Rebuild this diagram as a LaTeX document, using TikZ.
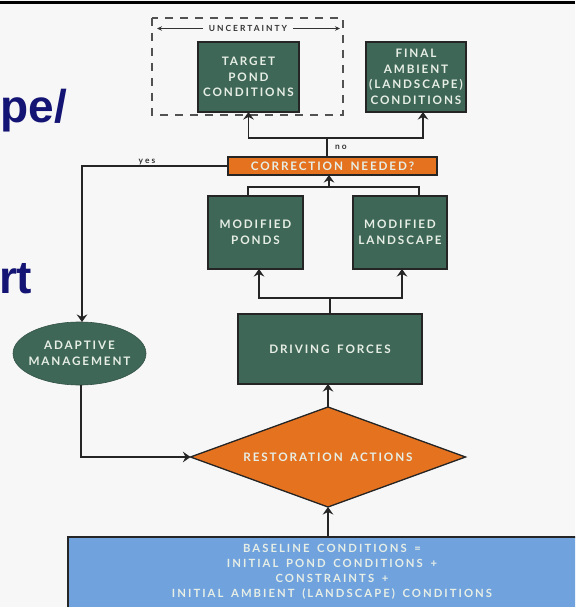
\documentclass[tikz,border=0pt]{standalone}
\usepackage{fontspec}
\usetikzlibrary{arrows.meta,shapes.geometric}
\newfontfamily\boxfont[LetterSpace=16,WordSpace=1.6]{Lato Bold}
\newfontfamily\tagfont[LetterSpace=24,WordSpace=1.4]{Lato Bold}
\newfontfamily\titlefont{Liberation Sans}
\definecolor{pagebg}{HTML}{F7F7F7}
\definecolor{boxgreen}{HTML}{3F6757}
\definecolor{boxorange}{HTML}{E5721F}
\definecolor{boxblue}{HTML}{70A2DE}
\definecolor{boxtext}{HTML}{E6EEE6}
\definecolor{inkline}{HTML}{252525}
\definecolor{softink}{HTML}{333333}
\definecolor{titleblue}{HTML}{141474}
\begin{document}
\begin{tikzpicture}[x=1pt,y=-1pt,
  every node/.style={inner sep=0pt, outer sep=0pt},
  lbl/.style={font=\boxfont\fontsize{11.7}{15.5}\selectfont, text=boxtext, align=center},
  baselbl/.style={font=\boxfont\addfontfeature{LetterSpace=18}\fontsize{11.3}{15}\selectfont, text=boxtext, align=center},
  gbox/.style={lbl, rectangle, draw=inkline, line width=1.3pt, fill=boxgreen},
  obox/.style={lbl, draw=inkline, line width=1.3pt, fill=boxorange},
  small/.style={font=\tagfont\fontsize{8.4}{10}\selectfont, text=softink},
  conn/.style={draw=inkline, line width=1.8pt},
  arr/.style={conn, -{Stealth[length=7.5pt,width=10.5pt,inset=2.5pt]}},
  thinarr/.style={draw=softink, line width=0.8pt, -{Stealth[length=5pt,width=4.5pt]}},
  dashbox/.style={draw=softink!85, line width=1.1pt, dash pattern=on 8pt off 7pt},
]
% page and frame
\fill[pagebg] (0,0) rectangle (575,607);
\useasboundingbox (0,0) rectangle (575,607);
\clip (0,0) rectangle (575,607);
\draw[line width=3pt, black] (0,2.5) -- (575,2.5);

% cut-off slide title
\node[font=\titlefont\bfseries\fontsize{46}{46}\selectfont, text=titleblue, anchor=base west] (ttlA) at (0.5,123) {pe/};
\node[font=\titlefont\bfseries\fontsize{46}{46}\selectfont, text=titleblue, anchor=base west] (ttlB) at (-1,293) {rt};

% uncertainty bracket
\draw[dashbox] (152,18) rectangle (343,115);
\node[small, inner xsep=6pt] (unc) at (248,28.5) {UNCERTAINTY};
\coordinate (uncL) at (157,28.5);
\coordinate (uncR) at (340,28.5);
\draw[thinarr] (unc.west) -- (uncL);
\draw[thinarr] (unc.east) -- (uncR);

% outcome boxes
\node[gbox, minimum width=101pt, minimum height=70pt] (target) at (248.5,77) {TARGET\\POND\\CONDITIONS};
\node[gbox, minimum width=100pt, minimum height=70pt] (final) at (416,77) {FINAL\\AMBIENT\\(LANDSCAPE)\\CONDITIONS};

% decision
\node[obox, minimum width=209pt, minimum height=18pt] (corr) at (332.5,166) {CORRECTION NEEDED?};

% modified system
\node[gbox, minimum width=95pt, minimum height=73pt] (modp) at (255.5,232.5) {MODIFIED\\PONDS};
\node[gbox, minimum width=94pt, minimum height=73pt] (modl) at (400,232.5) {MODIFIED\\LANDSCAPE};
\node[gbox, minimum width=184pt, minimum height=70pt] (drive) at (330,349) {DRIVING FORCES};

% actions
\node[obox, shape=diamond, aspect=2.75, minimum width=275pt, minimum height=100pt] (rest) at (328,457) {RESTORATION ACTIONS};
\node[ellipse, fill=boxgreen, draw=boxgreen!80!black, line width=0.6pt, minimum width=133pt, minimum height=63pt,
      label={[lbl]center:{ADAPTIVE\\MANAGEMENT}}] (adapt) at (79.5,353.5) {};

% baseline
\node[rectangle, draw=inkline, line width=1.3pt, fill=boxblue, minimum width=510pt, minimum height=72pt,
      label={[baselbl, xshift=9pt, yshift=1.5pt]center:{BASELINE CONDITIONS =\\INITIAL POND CONDITIONS +\\CONSTRAINTS +\\INITIAL AMBIENT (LANDSCAPE) CONDITIONS}}] (base) at (323,573) {};

% connectors
\coordinate (topsplit) at (327,138);
\draw[conn] (topsplit |- corr.north) -- (topsplit);
\draw[arr] (topsplit) -| (target.south);
\draw[arr] (topsplit) -| ([xshift=7pt]final.south);
\node[small, anchor=west] (nolbl) at (335,147.5) {no};

\coordinate (midjoin) at (329,187);
\draw[conn] ([xshift=-7.5pt]modp.north) -- ++(0,-9) -| ([xshift=19pt]modl.north);
\draw[arr] (midjoin) -- (midjoin |- corr.south);

\coordinate (drivesplit) at (330,298);
\draw[conn] (drive.north) -- (drivesplit);
\draw[arr] (drivesplit) -| ([xshift=3.5pt]modp.south);
\draw[arr] (drivesplit) -| ([xshift=2pt]modl.south);

\draw[arr] (rest.north) -- (rest.north |- drive.south);
\draw[arr] (base.north -| rest.south) -- (rest.south);

\draw[arr] (corr.west) -| ([xshift=2.5pt]adapt.north);
\node[small, anchor=base] (yeslbl) at (147,163.5) {yes};
\draw[arr] ([xshift=1.5pt]adapt.south) |- (rest.west);
\end{tikzpicture}
\end{document}
